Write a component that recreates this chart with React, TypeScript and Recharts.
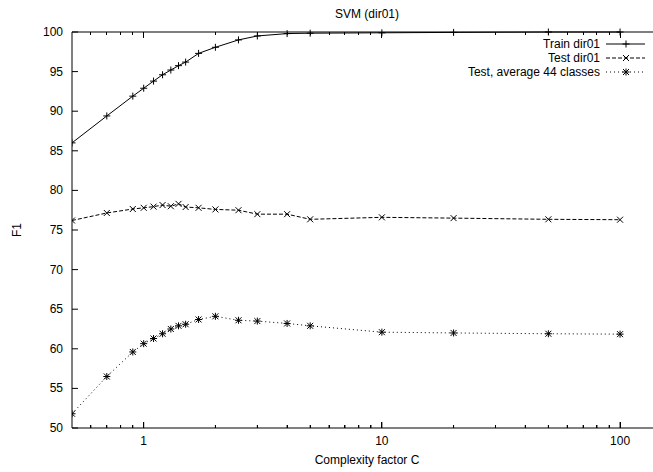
import React from "react";
import { LineChart, Line, XAxis, YAxis, ReferenceLine } from "recharts";

const C_VALUES = [0.5, 0.7, 0.9, 1, 1.1, 1.2, 1.3, 1.4, 1.5, 1.7, 2, 2.5, 3, 4, 5, 10, 20, 50, 100];
const TRAIN = [86.0, 89.4, 91.9, 92.9, 93.8, 94.6, 95.2, 95.75, 96.2, 97.3, 98.07, 99.0, 99.5, 99.8, 99.85, 99.9, 99.95, 100, 100];
const TEST = [76.2, 77.15, 77.65, 77.8, 77.95, 78.15, 78.0, 78.3, 77.9, 77.8, 77.6, 77.5, 77.0, 77.0, 76.35, 76.6, 76.5, 76.35, 76.3];
const TEST_AVG = [51.8, 56.5, 59.6, 60.65, 61.3, 61.9, 62.5, 62.9, 63.1, 63.7, 64.1, 63.6, 63.5, 63.2, 62.9, 62.1, 62.0, 61.9, 61.85];

const MAJOR_X = [1, 10, 100];
const MINOR_X = [0.6, 0.7, 0.8, 0.9, 2, 3, 4, 5, 6, 7, 8, 9, 20, 30, 40, 50, 60, 70, 80, 90];
const X_TICKS = [...MINOR_X, ...MAJOR_X].sort((a, b) => a - b);
const Y_TICKS = [50, 55, 60, 65, 70, 75, 80, 85, 90, 95, 100];
const X_DOMAIN = [0.5, 150];
const Y_DOMAIN = [50, 100];

const TITLE = "SVM (dir01)";
const X_LABEL = "Complexity factor C";
const Y_LABEL = "F1";
const SERIES_NAMES = ["Train dir01", "Test dir01", "Test, average 44 classes"];

const data = C_VALUES.map((c, i) => ({ c, train: TRAIN[i], test: TEST[i], avg: TEST_AVG[i] }));

const FONT = "'Liberation Sans', Arial, Helvetica, sans-serif";

// layout constants
const CHART_W = 670;
const CHART_H = 472;
const MARGIN_TOP = 31;
const TOP_AXIS_H = 1;
const BOTTOM_AXIS_H = 44;
const LEFT_AXIS_W = 72;
const RIGHT_AXIS_W = 8;
const PLOT_H = CHART_H - MARGIN_TOP - TOP_AXIS_H - BOTTOM_AXIS_H;
const PLOT_W = CHART_W - LEFT_AXIS_W - RIGHT_AXIS_W;

// tick lengths expressed in axis units (pixel length / axis scale)
const Y_PER_PX = (Y_DOMAIN[1] - Y_DOMAIN[0]) / PLOT_H;
const LOGX_PER_PX = Math.log10(X_DOMAIN[1] / X_DOMAIN[0]) / PLOT_W;

const Marker = ({ cx, cy, kind }: { cx: number; cy: number; kind: string }) => {
  const p = 3.5;
  const c = 3;
  const parts: React.ReactNode[] = [];
  if (kind === "plus" || kind === "star") {
    parts.push(<line key="h" x1={cx - p} y1={cy} x2={cx + p} y2={cy} stroke="#000" strokeWidth={1} />);
    parts.push(<line key="v" x1={cx} y1={cy - p} x2={cx} y2={cy + p} stroke="#000" strokeWidth={1} />);
  }
  if (kind === "cross" || kind === "star") {
    parts.push(<line key="d1" x1={cx - c} y1={cy - c} x2={cx + c} y2={cy + c} stroke="#000" strokeWidth={1} />);
    parts.push(<line key="d2" x1={cx - c} y1={cy + c} x2={cx + c} y2={cy - c} stroke="#000" strokeWidth={1} />);
  }
  return <g>{parts}</g>;
};

const makeDot = (kind: string) => (props: any) => (
  <Marker key={`${kind}-${props.index}`} cx={props.cx} cy={props.cy} kind={kind} />
);

const BottomLabel = (props: any) => {
  const { x, y, payload } = props;
  const v = payload.value;
  if (!MAJOR_X.includes(v)) return <g />;
  return (
    <text x={x} y={Number(y) + 17} textAnchor="middle" fontSize={12} fontFamily={FONT} fill="#000">
      {v}
    </text>
  );
};

const XTicks = (props: any) => {
  const { x, y, payload } = props;
  const v = payload.value;
  const major = MAJOR_X.includes(v);
  const px = Math.floor(Number(x));
  const top = Math.round(Number(y));
  const bottom = top + PLOT_H;
  const len = major ? 6 : 3;
  return (
    <g>
      <rect x={px} y={top} width={1} height={len} fill="#000" />
      <rect x={px} y={bottom - len} width={1} height={len} fill="#000" />
    </g>
  );
};

const LeftLabel = (props: any) => {
  const { x, y, payload } = props;
  return (
    <text x={Number(x) - 9} y={Number(y) + 4} textAnchor="end" fontSize={12} fontFamily={FONT} fill="#000">
      {payload.value}
    </text>
  );
};

const YTicks = (props: any) => {
  const { x, y } = props;
  const right = Math.round(Number(x));
  const left = right - PLOT_W;
  const py = Math.floor(Number(y));
  return (
    <g>
      <rect x={left} y={py} width={6} height={1} fill="#000" />
      <rect x={right - 6} y={py} width={6} height={1} fill="#000" />
    </g>
  );
};

const LEGEND_ROWS = [
  { name: SERIES_NAMES[0], kind: "plus", dash: undefined as string | undefined, cy: 44 },
  { name: SERIES_NAMES[1], kind: "cross", dash: "4 2", cy: 58 },
  { name: SERIES_NAMES[2], kind: "star", dash: "1 3", cy: 72 },
];

export default function App() {
  return (
    <div style={{ position: "fixed", left: 0, top: 0, width: 653, height: 472, overflow: "hidden", background: "#fff", fontFamily: FONT }}>
      <LineChart width={CHART_W} height={CHART_H} data={data} margin={{ top: MARGIN_TOP, right: 0, bottom: 0, left: 0 }}>
        <XAxis
          dataKey="c"
          type="number"
          scale="log"
          domain={X_DOMAIN}
          allowDataOverflow
          ticks={X_TICKS}
          interval={0}
          height={BOTTOM_AXIS_H}
          tickSize={0}
          tickMargin={0}
          tickLine={false}
          tick={<BottomLabel />}
          axisLine={{ stroke: "#000", strokeWidth: 1 }}
        />
        <XAxis
          xAxisId="top"
          orientation="top"
          dataKey="c"
          type="number"
          scale="log"
          domain={X_DOMAIN}
          allowDataOverflow
          ticks={X_TICKS}
          interval={0}
          height={TOP_AXIS_H}
          tickSize={0}
          tickMargin={0}
          tickLine={false}
          tick={<XTicks />}
          axisLine={{ stroke: "#000", strokeWidth: 1 }}
          zIndex={3000}
        />
        <YAxis
          type="number"
          domain={Y_DOMAIN}
          ticks={Y_TICKS}
          interval={0}
          width={LEFT_AXIS_W}
          tickSize={0}
          tickMargin={0}
          tickLine={false}
          tick={<LeftLabel />}
          axisLine={{ stroke: "#000", strokeWidth: 1 }}
        />
        <YAxis
          yAxisId="right"
          orientation="right"
          type="number"
          domain={Y_DOMAIN}
          ticks={Y_TICKS}
          interval={0}
          width={RIGHT_AXIS_W}
          tickSize={0}
          tickMargin={0}
          tickLine={false}
          tick={<YTicks />}
          axisLine={{ stroke: "#000", strokeWidth: 1 }}
          zIndex={3000}
        />
        {X_TICKS.map((v) => (
          <ReferenceLine
            key={`xt-${v}`}
            segment={[
              { x: v, y: Y_DOMAIN[0] },
              { x: v, y: Y_DOMAIN[0] + (MAJOR_X.includes(v) ? 6 : 3) * Y_PER_PX },
            ]}
            stroke="#000"
            strokeWidth={1}
            ifOverflow="visible"
            zIndex={3000}
          />
        ))}
        {Y_TICKS.map((v) => (
          <ReferenceLine
            key={`yt-${v}`}
            segment={[
              { x: X_DOMAIN[0], y: v },
              { x: X_DOMAIN[0] * Math.pow(10, 6 * LOGX_PER_PX), y: v },
            ]}
            stroke="#000"
            strokeWidth={1}
            ifOverflow="visible"
            zIndex={3000}
          />
        ))}
        <Line dataKey="train" stroke="#000" strokeWidth={1} isAnimationActive={false} dot={makeDot("plus")} activeDot={false} />
        <Line dataKey="test" stroke="#000" strokeWidth={1} strokeDasharray="4 2" isAnimationActive={false} dot={makeDot("cross")} activeDot={false} />
        <Line dataKey="avg" stroke="#000" strokeWidth={1} strokeDasharray="1 3" isAnimationActive={false} dot={makeDot("star")} activeDot={false} />
      </LineChart>

      <div style={{ position: "absolute", left: 267, top: 6, width: 200, textAlign: "center", fontSize: 12, lineHeight: "16px", color: "#000" }}>
        {TITLE}
      </div>
      <div style={{ position: "absolute", left: 217, top: 452, width: 300, textAlign: "center", fontSize: 12, lineHeight: "16px", color: "#000" }}>
        {X_LABEL}
      </div>
      <div
        style={{
          position: "absolute",
          left: 17 - 20,
          top: 230 - 8,
          width: 40,
          height: 16,
          textAlign: "center",
          fontSize: 12,
          lineHeight: "16px",
          color: "#000",
          transform: "rotate(-90deg)",
        }}
      >
        {Y_LABEL}
      </div>

      {LEGEND_ROWS.map((r) => (
        <React.Fragment key={r.name}>
          <div style={{ position: "absolute", left: 300, top: r.cy - 8, width: 300, textAlign: "right", fontSize: 12, lineHeight: "16px", color: "#000", whiteSpace: "nowrap" }}>
            {r.name}
          </div>
          <svg style={{ position: "absolute", left: 600, top: r.cy - 6 }} width={50} height={12}>
            <line x1={6} y1={6} x2={45} y2={6} stroke="#000" strokeWidth={1} strokeDasharray={r.dash} />
            <Marker cx={26} cy={6} kind={r.kind} />
          </svg>
        </React.Fragment>
      ))}
    </div>
  );
}
